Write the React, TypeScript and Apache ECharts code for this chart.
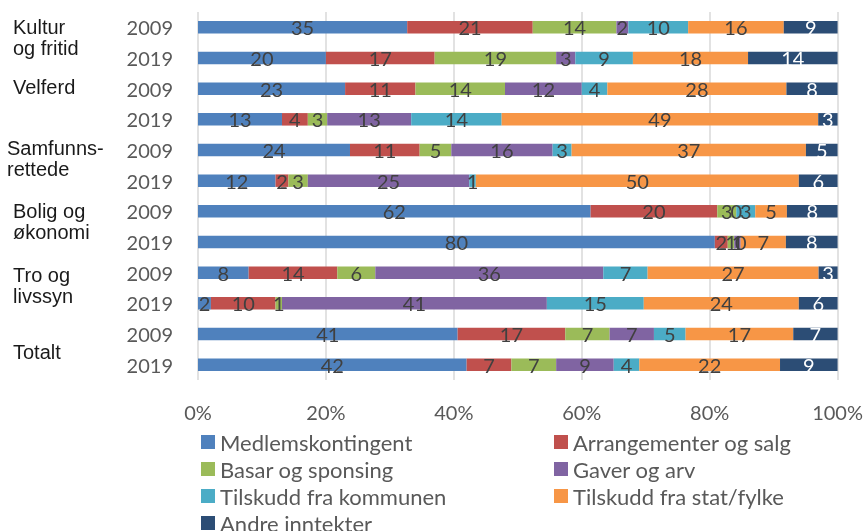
import React, { useEffect, useRef } from "react";
import * as echarts from "echarts";

const rowYears = ["2009", "2019", "2009", "2019", "2009", "2019", "2009", "2019", "2009", "2019", "2009", "2019"];
const groups = ["Kultur\nog fritid", "Velferd", "Samfunns-\nrettede", "Bolig og\nøkonomi", "Tro og\nlivssyn", "Totalt"];
const seriesNames = [
  "Medlemskontingent",
  "Arrangementer og salg",
  "Basar og sponsing",
  "Gaver og arv",
  "Tilskudd fra kommunen",
  "Tilskudd fra stat/fylke",
  "Andre inntekter",
];
const medlem = [35, 20, 23, 13, 24, 12, 62, 80, 8, 2, 41, 42];
const arrangement = [21, 17, 11, 4, 11, 2, 20, 2, 14, 10, 17, 7];
const basar = [14, 19, 14, 3, 5, 3, 3, 1, 6, 1, 7, 7];
const gaver = [2, 3, 12, 13, 16, 25, 0, 1, 36, 41, 7, 9];
const kommune = [10, 9, 4, 14, 3, 1, 3, 0, 7, 15, 5, 4];
const stat = [16, 18, 28, 49, 37, 50, 5, 7, 27, 24, 17, 22];
const andre = [9, 14, 8, 3, 5, 6, 8, 8, 3, 6, 7, 9];
const xTicks = [0, 20, 40, 60, 80, 100];

const allValues = [medlem, arrangement, basar, gaver, kommune, stat, andre];
const colors = ["#4F81BD", "#C0504D", "#9BBB59", "#8064A2", "#4BACC6", "#F79646", "#2C4D75"];

// layout of the group labels (text only)
const groupLabelX = [13, 13, 7, 13, 13, 13];
const groupLabelY = [37, 87, 158, 221, 285, 352];

export default function App() {
  const ref = useRef<HTMLDivElement>(null);
  useEffect(() => {
    document.body.style.margin = "0";
    if (!ref.current) return;
    const chart = echarts.init(ref.current, null, { renderer: "svg" });
    const rowSums = rowYears.map((_, i) => allValues.reduce((s, arr) => s + arr[i], 0));
    const series = allValues.map((vals, si) => ({
      name: seriesNames[si],
      type: "bar",
      stack: "total",
      barWidth: 12.5,
      itemStyle: { color: colors[si] },
      label: {
        show: true,
        position: "inside",
        fontFamily: "Lato",
        fontSize: 20,
        color: si === 6 ? "#ffffff" : "#404040",
        formatter: (p: any) => String(vals[p.dataIndex]),
      },
      data: vals.map((v, i) => (v / rowSums[i]) * 100),
    }));
    const legendBase = {
      top: 431,
      height: 130,
      orient: "vertical",
      padding: 0,
      itemWidth: 14,
      itemHeight: 14,
      itemGap: 5,
      icon: "rect",
      textStyle: {
        fontFamily: "Lato",
        fontSize: 22,
        color: "#595959",
      },
    };
    chart.setOption({
      animation: false,
      grid: { left: 198, right: 28, top: 12, bottom: 151, containLabel: false },
      xAxis: {
        type: "value",
        min: xTicks[0],
        max: xTicks[xTicks.length - 1],
        interval: 20,
        axisLine: { show: false },
        axisTick: { show: false },
        splitLine: { show: true, lineStyle: { color: "#D9D9D9", width: 1.5 } },
        axisLabel: {
          formatter: "{value}%",
          fontFamily: "Lato",
          fontSize: 20,
          color: "#595959",
          margin: 22,
        },
      },
      yAxis: {
        type: "category",
        inverse: true,
        data: rowYears,
        axisLine: { show: false },
        axisTick: { show: false },
        splitLine: { show: false },
        axisLabel: {
          fontFamily: "Lato",
          fontSize: 20,
          color: "#595959",
          margin: 25,
        },
      },
      legend: [
        { ...legendBase, left: 201, data: seriesNames.filter((_, i) => i % 2 === 0) },
        { ...legendBase, left: 554, data: seriesNames.filter((_, i) => i % 2 === 1) },
      ],
      graphic: groups.map((g, i) => ({
        type: "text",
        x: groupLabelX[i],
        y: groupLabelY[i],
        style: {
          text: g,
          fontFamily: "Liberation Sans",
          fontSize: 20,
          lineHeight: 21,
          fill: "#1a1a1a",
          verticalAlign: "middle",
          align: "left",
        },
      })),
      series,
    });
    return () => chart.dispose();
  }, []);
  return (
    <div
      ref={ref}
      style={{ position: "fixed", left: 0, top: 0, width: 866, height: 531 }}
    />
  );
}
